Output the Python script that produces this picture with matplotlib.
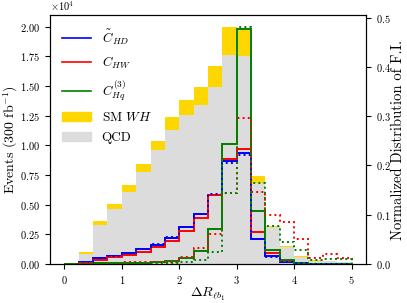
import numpy as np
import matplotlib
matplotlib.use('Agg')
import matplotlib.pyplot as plt
from matplotlib.patches import Patch
from matplotlib.lines import Line2D

plt.rcParams['font.family'] = 'serif'
plt.rcParams['font.serif'] = ['cmr10', 'DejaVu Serif']
plt.rcParams['mathtext.fontset'] = 'cm'
plt.rcParams['axes.formatter.use_mathtext'] = True
plt.rcParams['axes.unicode_minus'] = False

# bins in Delta R (width 0.25, 0 to 5)
edges = np.arange(0, 5.01, 0.25)
centers = 0.5 * (edges[:-1] + edges[1:])

# stacked event counts (300 fb^-1)
qcd = [15, 840, 3300, 4670, 6100, 7760, 9620, 11300, 12570, 13400,
       14900, 17640, 17500, 6800, 3100, 1400, 600, 280, 230, 190]
sm_wh = [5, 150, 300, 390, 540, 680, 760, 1050, 1270, 1500,
         1750, 2330, 2300, 630, 130, 120, 100, 20, 20, 10]

# normalized distribution of Fisher information (solid)
c_hd = [0.0, 0.003, 0.0116, 0.016, 0.022, 0.030, 0.039, 0.053, 0.074, 0.101,
        0.140, 0.208, 0.2245, 0.0507, 0.0156, 0.004, 0.001, 0.0, 0.0, 0.0]
c_hw = [0.0, 0.002, 0.008, 0.0136, 0.019, 0.025, 0.034, 0.047, 0.067, 0.094,
        0.139, 0.212, 0.233, 0.0655, 0.022, 0.005, 0.001, 0.0, 0.0, 0.0]
c_hq3 = [0.0, 0.0005, 0.001, 0.001, 0.0015, 0.002, 0.003, 0.005, 0.011, 0.027,
         0.070, 0.244, 0.476, 0.108, 0.028, 0.008, 0.002, 0.0, 0.0, 0.0]

# dotted variants
c_hd_dot = [0.0, 0.003, 0.012, 0.0165, 0.023, 0.031, 0.040, 0.054, 0.075, 0.102,
            0.141, 0.205, 0.222, 0.050, 0.015, 0.004, 0.001, 0.0, 0.0, 0.0]
c_hw_dot = [0.0, 0.001, 0.002, 0.002, 0.003, 0.003, 0.003, 0.004, 0.0136, 0.032,
            0.061, 0.143, 0.297, 0.145, 0.100, 0.085, 0.051, 0.013, 0.021, 0.013]
c_hq3_dot = [0.0, 0.0, 0.001, 0.001, 0.001, 0.001, 0.002, 0.002, 0.004, 0.008,
             0.024, 0.143, 0.481, 0.164, 0.076, 0.045, 0.028, 0.008, 0.010, 0.010]

fig = plt.figure(figsize=(4.07, 3.03), dpi=100)
ax = fig.add_axes([0.123, 0.129, 0.776, 0.821])

ax.hist([centers, centers], bins=edges, weights=[qcd, sm_wh], stacked=True,
        color=['gainsboro', 'gold'])
ax.ticklabel_format(axis='y', style='sci', scilimits=(0, 0))
ax.set_yticks(np.arange(0, 20001, 2500))
ax.set_ylabel(r'Events (300 fb$^{-1}$)', fontsize=10, labelpad=0.5)
ax.set_xlabel(r'$\Delta R_{\ell b_1}$', fontsize=10, labelpad=0)
ax.tick_params(labelsize=7.5)
ax.yaxis.get_offset_text().set_fontsize(7.5)

ax2 = ax.twinx()
lw = 1.4
ax2.hist(centers, bins=edges, weights=c_hd, histtype='step', color='blue', lw=lw)
ax2.hist(centers, bins=edges, weights=c_hw, histtype='step', color='red', lw=lw)
ax2.hist(centers, bins=edges, weights=c_hq3, histtype='step', color='green', lw=lw)
ax2.hist(centers, bins=edges, weights=c_hd_dot, histtype='step', color='blue', lw=lw, ls=':')
ax2.hist(centers, bins=edges, weights=c_hw_dot, histtype='step', color='red', lw=lw, ls=':')
ax2.hist(centers, bins=edges, weights=c_hq3_dot, histtype='step', color='green', lw=lw, ls=':')
ax2.set_ylabel('Normalized Distribution of F.I.', fontsize=10.5, labelpad=0.5)
ax2.tick_params(labelsize=7.5)
ax2.set_ylim(bottom=0)

handles = [Line2D([], [], color='blue', lw=1.2),
           Line2D([], [], color='red', lw=1.2),
           Line2D([], [], color='green', lw=1.2),
           Patch(color='gold'), Patch(color='gainsboro')]
labels = [r'$\tilde{C}_{HD}$', r'$C_{HW}$', r'$C_{Hq}^{(3)}$', r'SM $WH$', 'QCD']
ax2.legend(handles, labels, loc='upper left', frameon=False, fontsize=9.5,
           labelspacing=0.6, handlelength=2.2)

fig.savefig('out.png', dpi=100)
